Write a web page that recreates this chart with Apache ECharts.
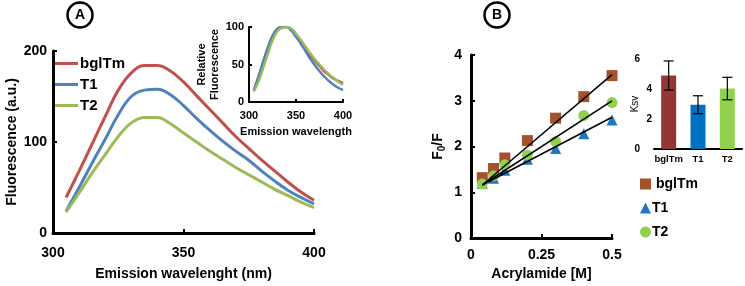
<!DOCTYPE html>
<html>
<head>
<meta charset="utf-8">
<script src="https://cdn.jsdelivr.net/npm/echarts@6/dist/echarts.min.js"></script>
<style>
  html, body { margin: 0; padding: 0; background: #fff; }
  #chart { width: 745px; height: 286px; }
</style>
</head>
<body>
<div id="chart"></div>
<script>
// panel A: emission spectra
const wavelength = [305, 310, 315, 320, 325, 330, 335, 340, 345, 350, 355, 360, 365, 370, 375, 380, 385, 390, 395, 400];
const bglTmSpec = [39, 68, 98, 128, 157, 176, 184, 184, 178, 166, 151, 136, 121, 106, 93, 80, 68, 56, 45, 36];
const t1Spec    = [24, 50, 77, 103, 130, 150, 157, 158, 152, 140, 126, 113, 101, 90, 80, 68, 57, 47, 39, 32];
const t2Spec    = [23, 44, 66, 86, 106, 121, 127, 127, 120, 110, 100, 90, 81, 72, 64, 56, 48, 41, 34, 28];
// inset A: relative fluorescence
const bglTmRel = [15, 33, 53, 72, 88, 97, 100, 100, 96, 89, 81, 72, 63, 55, 48, 41, 36, 31, 28, 25];
const t1Rel    = [15, 33, 53, 72, 88, 97, 100, 100, 95, 87, 78, 68, 58, 49, 41, 34, 28, 23, 19, 16];
const t2Rel    = [14, 27, 45, 64, 82, 94, 99, 100, 98, 91, 83, 74, 65, 57, 50, 43, 37, 32, 27, 23];

// panel B: Stern-Volmer
const acrylamide = [0.04, 0.08, 0.12, 0.2, 0.3, 0.4, 0.5];
const bglTmF0F = [1.32, 1.52, 1.75, 2.13, 2.62, 3.09, 3.55];
const t1F0F    = [1.2, 1.31, 1.48, 1.72, 1.96, 2.28, 2.58];
const t2F0F    = [1.18, 1.36, 1.6, 1.81, 2.11, 2.68, 2.96];
const fitX     = [0.04, 0.5];
const fitBglTm = [1.16, 3.57];
const fitT1    = [1.16, 2.64];
const fitT2    = [1.16, 3.0];

// inset B: Ksv bars
const ksvNames  = ['bglTm', 'T1', 'T2'];
const ksvValues = [4.9, 2.95, 4.03];
const ksvErr    = [0.97, 0.6, 0.75];

const lineColors = ['#c0504d', '#4f81bd', '#9bbb59'];
const markColors = ['#a5522b', '#2075c4', '#92d050'];
const barColors  = ['#943634', '#0070c0', '#92d050'];

const FONT = '"Liberation Sans", Arial, sans-serif';

function pairs(xs, ys) {
    return xs.map((x, i) => [x, ys[i]]);
}

function axisBase(opts) {
    return Object.assign({
        axisLine: { show: true, lineStyle: { color: '#000', width: 3 } },
        axisTick: { show: true, inside: true, length: 4, lineStyle: { color: '#000', width: 2 } },
        axisLabel: { color: '#000', fontFamily: FONT, fontWeight: 'bold', fontSize: 14 },
        splitLine: { show: false },
        nameTextStyle: { color: '#000', fontFamily: FONT, fontWeight: 'bold', fontSize: 14 },
        nameLocation: 'middle'
    }, opts);
}

const chart = echarts.init(document.getElementById('chart'), null, { renderer: 'canvas' });

const option = {
    backgroundColor: '#fff',
    animation: false,
    textStyle: { fontFamily: FONT },
    grid: [
        { left: 53, top: 51, width: 261, height: 188 },   // A main
        { left: 249, top: 27, width: 94, height: 75 },    // A inset
        { left: 471, top: 55, width: 141, height: 186 },  // B main
        { left: 654, top: 59, width: 88, height: 90 }     // B inset
    ],
    xAxis: [
        axisBase({ gridIndex: 0, type: 'value', min: 300, max: 400, interval: 50,
            name: 'Emission wavelenght (nm)', nameGap: 34,
            axisLabel: { color: '#000', fontFamily: FONT, fontWeight: 'bold', fontSize: 14, margin: 13 } }),
        axisBase({ gridIndex: 1, type: 'value', min: 300, max: 400, interval: 50,
            name: 'Emission wavelength', nameGap: 24,
            axisLine: { lineStyle: { color: '#000', width: 2 } },
            axisTick: { inside: true, length: 3, lineStyle: { color: '#000', width: 2 } },
            axisLabel: { color: '#000', fontFamily: FONT, fontWeight: 'bold', fontSize: 11, margin: 8 },
            nameTextStyle: { color: '#000', fontFamily: FONT, fontWeight: 'bold', fontSize: 11 } }),
        axisBase({ gridIndex: 2, type: 'value', min: 0, max: 0.5, interval: 0.25,
            name: 'Acrylamide [M]', nameGap: 20,
            axisLabel: { color: '#000', fontFamily: FONT, fontWeight: 'bold', fontSize: 14, margin: 10 } }),
        axisBase({ gridIndex: 3, type: 'category', data: ksvNames,
            axisLine: { lineStyle: { color: '#000', width: 2 } },
            axisTick: { inside: true, length: 3, lineStyle: { color: '#000', width: 1.5 } },
            axisLabel: { color: '#000', fontFamily: FONT, fontWeight: 'bold', fontSize: 9.5, margin: 5, interval: 0 } })
    ],
    yAxis: [
        axisBase({ gridIndex: 0, type: 'value', min: 0, max: 200, interval: 100,
            name: 'Fluorescence (a.u.)', nameGap: 34,
            axisLabel: { color: '#000', fontFamily: FONT, fontWeight: 'bold', fontSize: 14, margin: 6 } }),
        axisBase({ gridIndex: 1, type: 'value', min: 0, max: 100, interval: 50,
            name: 'Relative\nFluorescence', nameGap: 27,
            axisLine: { lineStyle: { color: '#000', width: 2 } },
            axisTick: { inside: true, length: 3, lineStyle: { color: '#000', width: 2 } },
            axisLabel: { color: '#000', fontFamily: FONT, fontWeight: 'bold', fontSize: 11, margin: 5 },
            nameTextStyle: { color: '#000', fontFamily: FONT, fontWeight: 'bold', fontSize: 11, lineHeight: 13 } }),
        axisBase({ gridIndex: 2, type: 'value', min: 0, max: 4, interval: 1,
            name: '{a|F}{s|0}{a|/F}', nameGap: 24,
            axisLabel: { color: '#000', fontFamily: FONT, fontWeight: 'bold', fontSize: 14, margin: 9 },
            nameTextStyle: { color: '#000', fontFamily: FONT, fontWeight: 'bold', fontSize: 14,
                rich: {
                    a: { fontFamily: FONT, fontWeight: 'bold', fontSize: 14, color: '#000' },
                    s: { fontFamily: FONT, fontWeight: 'bold', fontSize: 10, color: '#000', padding: [8, 0, 0, 0] }
                } } }),
        axisBase({ gridIndex: 3, type: 'value', min: 0, max: 6, interval: 2,
            name: 'Ksv', nameGap: 14, nameMoveOverlap: false,
            axisLine: { lineStyle: { color: '#000', width: 2 } },
            axisTick: { inside: true, length: 3, lineStyle: { color: '#000', width: 1.5 } },
            axisLabel: { color: '#000', fontFamily: FONT, fontWeight: 'bold', fontSize: 10, margin: 2,
                formatter: v => (v === 2 || v === 4) ? '{n|' + v + '}' : '{f|' + v + '}',
                rich: {
                    n: { fontFamily: FONT, fontWeight: 'bold', fontSize: 10, color: '#000' },
                    f: { fontFamily: FONT, fontWeight: 'bold', fontSize: 10, color: '#000', padding: [0, 12, 0, 0] }
                } },
            nameTextStyle: { color: '#000', fontFamily: FONT, fontSize: 10 } })
    ],
    legend: [
        {
            data: ['bglTm', 'T1', 'T2'],
            orient: 'vertical', left: 55, top: 56, itemGap: 6, padding: 0,
            icon: 'rect', itemWidth: 23, itemHeight: 3,
            textStyle: { color: '#000', fontFamily: FONT, fontWeight: 'bold', fontSize: 15, padding: [0, 0, 0, -3] }
        },
        {
            data: [' bglTm', 'T1 ', 'T2 '],
            orient: 'vertical', left: 640, top: 177, itemGap: 10, padding: 0,
            itemWidth: 11, itemHeight: 11,
            textStyle: { color: '#000', fontFamily: FONT, fontWeight: 'bold', fontSize: 14, padding: [0, 0, 0, -4] }
        }
    ],
    series: [
        // A main
        { name: 'bglTm', type: 'line', xAxisIndex: 0, yAxisIndex: 0, smooth: 0.4, symbol: 'none',
          lineStyle: { color: lineColors[0], width: 3 }, itemStyle: { color: lineColors[0] },
          data: pairs(wavelength, bglTmSpec) },
        { name: 'T1', type: 'line', xAxisIndex: 0, yAxisIndex: 0, smooth: 0.4, symbol: 'none',
          lineStyle: { color: lineColors[1], width: 3 }, itemStyle: { color: lineColors[1] },
          data: pairs(wavelength, t1Spec) },
        { name: 'T2', type: 'line', xAxisIndex: 0, yAxisIndex: 0, smooth: 0.4, symbol: 'none',
          lineStyle: { color: lineColors[2], width: 3 }, itemStyle: { color: lineColors[2] },
          data: pairs(wavelength, t2Spec) },
        // A inset
        { name: 'bglTm', type: 'line', xAxisIndex: 1, yAxisIndex: 1, smooth: true, symbol: 'none',
          lineStyle: { color: lineColors[0], width: 2.5 }, data: pairs(wavelength, bglTmRel) },
        { name: 'T1', type: 'line', xAxisIndex: 1, yAxisIndex: 1, smooth: true, symbol: 'none',
          lineStyle: { color: lineColors[1], width: 2.5 }, data: pairs(wavelength, t1Rel) },
        { name: 'T2', type: 'line', xAxisIndex: 1, yAxisIndex: 1, smooth: true, symbol: 'none',
          lineStyle: { color: lineColors[2], width: 2.5 }, data: pairs(wavelength, t2Rel) },
        // B scatter
        { name: ' bglTm', type: 'scatter', xAxisIndex: 2, yAxisIndex: 2, symbol: 'rect', symbolSize: 11,
          itemStyle: { color: markColors[0], opacity: 1 }, data: pairs(acrylamide, bglTmF0F), z: 3 },
        { name: 'T1 ', type: 'scatter', xAxisIndex: 2, yAxisIndex: 2, symbol: 'triangle', symbolSize: 11,
          itemStyle: { color: markColors[1], opacity: 1 }, data: pairs(acrylamide, t1F0F), z: 3 },
        { name: 'T2 ', type: 'scatter', xAxisIndex: 2, yAxisIndex: 2, symbol: 'circle', symbolSize: 11,
          itemStyle: { color: markColors[2], opacity: 1 }, data: pairs(acrylamide, t2F0F), z: 4 },
        // B fit lines
        { type: 'line', xAxisIndex: 2, yAxisIndex: 2, symbol: 'none', z: 5,
          lineStyle: { color: '#000', width: 1.5 }, data: pairs(fitX, fitBglTm) },
        { type: 'line', xAxisIndex: 2, yAxisIndex: 2, symbol: 'none', z: 5,
          lineStyle: { color: '#000', width: 1.5 }, data: pairs(fitX, fitT1) },
        { type: 'line', xAxisIndex: 2, yAxisIndex: 2, symbol: 'none', z: 5,
          lineStyle: { color: '#000', width: 1.5 }, data: pairs(fitX, fitT2) },
        // B inset bars
        { name: 'Ksv', type: 'bar', xAxisIndex: 3, yAxisIndex: 3, barWidth: 15,
          data: ksvValues.map((v, i) => ({ value: v, itemStyle: { color: barColors[i] } })) },
        { type: 'custom', xAxisIndex: 3, yAxisIndex: 3, z: 6,
          data: ksvValues.map((v, i) => [i, v - ksvErr[i], v + ksvErr[i]]),
          renderItem: function (params, api) {
              const lo = api.coord([api.value(0), api.value(1)]);
              const hi = api.coord([api.value(0), api.value(2)]);
              const w = 5;
              const st = { stroke: '#000', lineWidth: 1.2 };
              return {
                  type: 'group',
                  children: [
                      { type: 'line', shape: { x1: hi[0], y1: hi[1], x2: lo[0], y2: lo[1] }, style: st },
                      { type: 'line', shape: { x1: hi[0] - w, y1: hi[1], x2: hi[0] + w, y2: hi[1] }, style: st },
                      { type: 'line', shape: { x1: lo[0] - w, y1: lo[1], x2: lo[0] + w, y2: lo[1] }, style: st }
                  ]
              };
          } }
    ],
    graphic: [
        { type: 'circle', shape: { cx: 80, cy: 15, r: 12.5 }, style: { fill: '#fff', stroke: '#000', lineWidth: 2.5 } },
        { type: 'text', x: 80, y: 15, style: { text: 'A', fill: '#000', font: 'bold 14px ' + FONT, align: 'center', verticalAlign: 'middle' } },
        { type: 'circle', shape: { cx: 497, cy: 15, r: 12.5 }, style: { fill: '#fff', stroke: '#000', lineWidth: 2.5 } },
        { type: 'text', x: 497, y: 15, style: { text: 'B', fill: '#000', font: 'bold 14px ' + FONT, align: 'center', verticalAlign: 'middle' } }
    ]
};

chart.setOption(option);
</script>
</body>
</html>
